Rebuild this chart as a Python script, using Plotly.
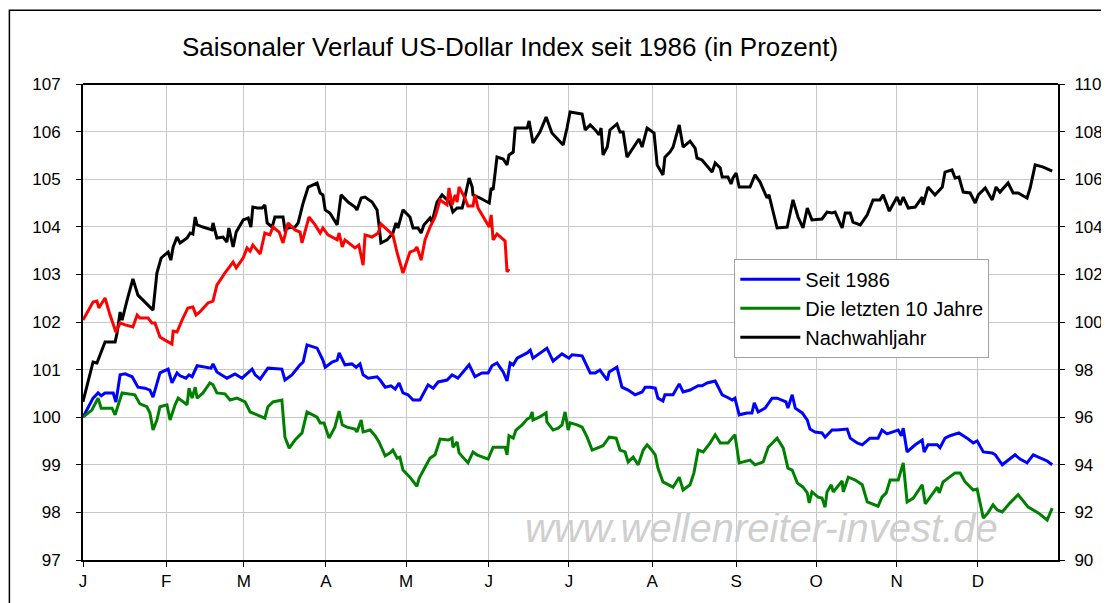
import plotly.graph_objects as go

# x = trading day of the year (0..252), y in percent
months = ["J", "F", "M", "A", "M", "J", "J", "A", "S", "O", "N", "D"]
month_starts = [0, 21.5, 41.6, 62.8, 83.5, 104.9, 125.6, 147.1, 168.8, 189.5, 210.3, 231.3]

# Seit 1986 (left axis)
seit_x = [0, 2.6, 3.9, 4.7, 5.7, 7.8, 8.5, 9.6, 10.9, 12.7, 14.2, 16.0, 17.3, 18.1, 19.9, 22.0, 23.0, 24.3,
          25.1, 26.6, 27.4, 28.2, 29.5, 31.8, 33.1, 33.6, 34.6, 37.2, 39.3, 41.1, 42.7, 43.7, 44.5, 45.8,
          47.8, 51.4, 52.2, 54.0, 56.1, 56.9, 57.9, 60.5, 62.0, 62.6, 64.4, 65.7, 66.2, 67.7, 69.5, 70.6,
          71.6, 72.4, 73.7, 76.0, 76.8, 78.1, 79.6, 80.7, 81.7, 82.7, 84.0, 85.3, 87.1, 88.4, 89.2, 90.5,
          91.8, 94.1, 95.4, 96.9, 98.2, 99.8, 101.3, 103.1, 104.7, 105.7, 107.0, 108.6, 109.6, 110.4, 111.2,
          112.2, 114.8, 115.6, 116.3, 118.1, 119.9, 121.5, 123.8, 125.6, 126.4, 129.0, 129.8, 131.1, 132.4,
          133.6, 135.5, 136.0, 138.0, 139.3, 140.9, 142.7, 144.5, 145.3, 146.6, 147.9, 148.6, 149.9, 150.4,
          152.5, 154.1, 155.1, 156.9, 159.0, 160.0, 161.3, 163.4, 165.2, 166.5, 167.8, 168.5, 169.6, 171.6,
          172.9, 173.5, 174.5, 176.3, 178.1, 179.4, 181.7, 182.2, 183.3, 184.1, 185.9, 187.2, 187.9, 189.2,
          191.0, 191.8, 193.6, 194.9, 197.5, 198.3, 200.1, 201.4, 203.4, 205.5, 206.5, 207.8, 209.1, 210.7,
          211.5, 212.0, 213.0, 215.1, 216.9, 217.4, 218.4, 220.8, 221.5, 222.8, 224.1, 226.4, 228.5, 230.1,
          231.1, 232.7, 235.0, 235.8, 237.6, 239.6, 240.9, 242.2, 244.0, 245.6, 247.4, 249.2, 250.5]
seit_y = [100.0, 100.40, 100.51, 100.45, 100.51, 100.51, 100.32, 100.89, 100.91, 100.85, 100.63, 100.61,
          100.57, 100.42, 100.93, 101.01, 100.72, 100.93, 100.87, 100.82, 100.89, 100.85, 101.08, 101.05,
          101.03, 101.12, 100.95, 100.82, 100.91, 100.82, 100.95, 101.01, 100.89, 100.80, 101.03, 101.01,
          100.78, 100.89, 101.10, 101.16, 101.52, 101.45, 101.20, 101.05, 101.16, 101.20, 101.35, 101.10,
          101.12, 101.05, 101.12, 100.89, 100.82, 100.85, 100.78, 100.63, 100.66, 100.59, 100.72, 100.51,
          100.47, 100.36, 100.36, 100.57, 100.68, 100.61, 100.74, 100.78, 100.89, 100.82, 100.95, 101.10,
          100.85, 100.93, 100.93, 101.08, 101.14, 100.95, 100.76, 101.14, 101.10, 101.24, 101.35, 101.41,
          101.24, 101.35, 101.45, 101.18, 101.33, 101.24, 101.31, 101.29, 101.14, 100.93, 100.93, 100.99,
          100.78, 100.95, 101.05, 100.63, 100.57, 100.47, 100.53, 100.63, 100.63, 100.61, 100.40, 100.34,
          100.47, 100.47, 100.70, 100.53, 100.57, 100.66, 100.66, 100.72, 100.76, 100.47, 100.42, 100.36,
          100.40, 100.05, 100.09, 100.09, 100.30, 100.11, 100.19, 100.40, 100.40, 100.32, 100.19, 100.47,
          100.19, 100.09, 99.94, 99.75, 99.69, 99.67, 99.58, 99.73, 99.73, 99.75, 99.56, 99.46, 99.42,
          99.56, 99.56, 99.73, 99.65, 99.69, 99.73, 99.61, 99.77, 99.27, 99.42, 99.52, 99.27, 99.42, 99.42,
          99.36, 99.56, 99.61, 99.67, 99.56, 99.46, 99.50, 99.27, 99.25, 99.21, 99.0, 99.12, 99.21, 99.12,
          99.04, 99.21, 99.14, 99.08, 99.0]

# Die letzten 10 Jahre (left axis)
zehn_x = [0, 2.3, 3.9, 4.7, 7.5, 8.3, 10.1, 12.1, 13.4, 14.7, 16.5, 17.3, 18.1, 19.1, 19.9, 21.7, 22.5, 23.8,
          24.6, 26.9, 27.4, 28.2, 29.0, 29.5, 31.0, 32.8, 33.6, 34.6, 36.7, 38.0, 39.8, 41.9, 43.2, 45.0,
          47.0, 47.8, 49.1, 51.4, 52.2, 53.3, 54.8, 56.6, 57.9, 60.5, 61.3, 62.3, 63.6, 65.1, 66.2, 67.0,
          68.2, 70.3, 70.8, 71.9, 72.4, 74.2, 75.5, 76.5, 78.1, 79.4, 80.1, 81.2, 81.9, 82.7, 84.5, 86.3,
          86.9, 88.4, 89.7, 91.0, 92.3, 94.4, 95.4, 95.6, 96.7, 97.2, 99.5, 100.8, 101.8, 104.7, 106.0,
          109.1, 109.6, 110.1, 111.2, 111.9, 113.5, 114.8, 115.6, 116.1, 116.3, 117.9, 119.7, 119.9, 121.5,
          122.8, 123.8, 124.6, 125.4, 125.9, 127.7, 129.0, 130.3, 131.6, 133.1, 134.4, 136.0, 137.8, 138.8,
          140.1, 140.9, 142.2, 143.5, 144.8, 145.8, 146.6, 147.9, 148.6, 149.9, 152.5, 154.1, 155.1, 156.9,
          157.9, 159.0, 160.3, 162.1, 163.4, 164.7, 166.7, 168.5, 169.6, 172.4, 173.7, 175.8, 177.1, 179.4,
          181.0, 182.2, 183.3, 184.6, 186.1, 187.2, 187.7, 188.4, 190.0, 191.0, 191.8, 192.3, 193.4, 193.9,
          196.2, 196.5, 197.8, 199.6, 201.4, 202.7, 205.5, 206.5, 207.6, 208.6, 210.7, 212.0, 213.0, 214.6,
          216.9, 217.7, 219.0, 220.8, 221.3, 222.3, 223.6, 225.4, 226.7, 228.0, 230.1, 231.1, 232.7, 233.9,
          235.2, 236.3, 237.6, 239.6, 241.7, 242.7, 244.3, 246.9, 249.2, 250.5]
zehn_y = [100.0, 100.15, 100.40, 100.19, 100.19, 100.05, 100.51, 100.49, 100.47, 100.28, 100.22, 100.09,
          99.73, 99.94, 100.22, 100.26, 99.94, 100.26, 100.40, 100.26, 100.61, 100.40, 100.63, 100.40,
          100.51, 100.72, 100.68, 100.51, 100.49, 100.36, 100.40, 100.32, 100.11, 100.05, 99.98, 100.22,
          100.32, 100.36, 99.58, 99.35, 99.52, 99.67, 100.11, 100.0, 99.88, 99.88, 99.56, 99.79, 100.13,
          99.84, 99.79, 99.75, 99.69, 99.94, 99.69, 99.73, 99.61, 99.48, 99.19, 99.25, 99.31, 99.14, 99.16,
          98.89, 98.74, 98.55, 98.72, 98.95, 99.14, 99.21, 99.54, 99.52, 99.56, 99.37, 99.48, 99.25, 99.04,
          99.27, 99.21, 99.12, 99.37, 99.37, 99.21, 99.61, 99.56, 99.73, 99.84, 99.96, 100.0, 100.11, 99.94,
          100.0, 100.09, 99.90, 99.73, 99.77, 99.84, 100.11, 99.73, 99.88, 99.84, 99.79, 99.58, 99.31, 99.35,
          99.40, 99.58, 99.56, 99.31, 99.27, 99.06, 99.16, 99.0, 99.31, 99.42, 99.35, 99.21, 98.93, 98.64,
          98.53, 98.74, 98.47, 98.58, 98.83, 99.31, 99.27, 99.46, 99.63, 99.46, 99.46, 99.63, 99.04, 99.10,
          99.0, 99.06, 99.37, 99.56, 99.35, 98.93, 98.89, 98.62, 98.53, 98.41, 98.20, 98.43, 98.32, 98.30,
          98.11, 98.43, 98.58, 98.43, 98.66, 98.43, 98.74, 98.68, 98.58, 98.22, 98.13, 98.32, 98.41, 98.68,
          98.68, 99.04, 98.22, 98.30, 98.58, 98.18, 98.32, 98.53, 98.41, 98.64, 98.72, 98.83, 98.83, 98.64,
          98.47, 98.49, 97.88, 97.99, 98.16, 98.05, 98.01, 98.20, 98.37, 98.26, 98.11, 97.99, 97.84, 98.09]

# Nachwahljahr (right axis)
wahl_x = [0, 2.6, 3.6, 5.7, 8.3, 8.8, 9.6, 10.1, 11.4, 12.9, 14.2, 15.5, 17.3, 18.1, 19.1, 20.2, 22.0, 22.7,
          23.3, 24.3, 25.1, 26.9, 27.7, 28.4, 29.0, 29.5, 31.0, 33.3, 33.6, 34.6, 36.2, 37.2, 37.7, 38.8,
          39.6, 41.4, 42.7, 43.4, 43.9, 45.0, 46.3, 47.0, 47.6, 48.9, 49.6, 51.7, 52.2, 53.0, 54.8, 55.6,
          56.9, 58.2, 60.5, 61.3, 62.0, 62.6, 63.8, 65.7, 66.7, 68.5, 70.3, 70.8, 71.9, 72.9, 74.7, 76.0,
          76.5, 77.0, 78.6, 80.1, 80.9, 81.4, 82.7, 84.5, 85.3, 86.6, 87.4, 88.1, 89.7, 90.2, 91.5, 92.8,
          94.9, 95.6, 96.7, 98.0, 98.7, 99.8, 100.6, 100.8, 102.6, 105.0, 105.5, 106.0, 107.0, 108.6, 109.6,
          110.1, 111.2, 111.7, 113.5, 114.8, 115.3, 116.3, 118.1, 119.7, 121.2, 122.8, 124.1, 125.1, 125.9,
          129.0, 129.8, 131.1, 132.4, 133.4, 133.9, 134.4, 135.5, 136.2, 138.0, 138.8, 139.6, 140.6, 142.2,
          143.7, 144.5, 145.8, 147.6, 148.4, 149.9, 150.4, 151.7, 152.5, 154.1, 155.1, 156.9, 158.2, 158.7,
          160.0, 162.6, 163.4, 164.7, 165.2, 166.7, 167.5, 168.0, 168.8, 169.6, 172.4, 173.7, 175.0, 176.8,
          177.3, 179.4, 182.0, 183.5, 184.8, 186.1, 187.2, 188.4, 191.0, 192.3, 193.6, 194.4, 196.2, 197.0,
          198.3, 199.0, 200.9, 202.7, 204.2, 206.0, 206.8, 208.4, 210.4, 211.2, 212.0, 213.3, 215.1, 216.9,
          217.1, 218.4, 220.2, 222.1, 222.8, 224.6, 225.4, 226.4, 227.5, 229.3, 230.6, 231.4, 233.2, 235.0,
          236.0, 237.0, 239.1, 240.4, 241.7, 244.0, 244.8, 246.1, 248.2, 250.5]
wahl_y = [96.65, 98.32, 98.28, 99.16, 99.16, 99.54, 100.42, 100.08, 100.92, 101.81, 101.13, 100.92, 100.63,
          100.50, 102.06, 102.69, 102.94, 102.60, 103.15, 103.57, 103.32, 103.53, 103.74, 103.70, 104.41,
          104.08, 103.99, 103.87, 104.16, 103.53, 103.57, 103.36, 103.95, 103.15, 103.78, 104.29, 104.37,
          103.99, 104.83, 104.79, 104.79, 104.92, 104.16, 103.99, 104.41, 104.41, 103.87, 103.95, 103.99,
          104.16, 105.0, 105.67, 105.84, 105.42, 105.34, 104.71, 104.58, 104.08, 105.34, 105.04, 104.83,
          104.71, 105.21, 105.25, 105.04, 104.71, 104.08, 103.32, 103.45, 103.74, 104.16, 103.95, 104.71,
          104.41, 103.95, 103.95, 103.74, 104.08, 104.37, 104.20, 105.04, 105.34, 105.0, 104.62, 104.79,
          104.79, 105.25, 106.05, 105.67, 105.34, 105.21, 105.0, 105.63, 105.55, 106.93, 106.85, 106.60,
          107.02, 107.14, 108.15, 108.15, 108.15, 108.45, 107.52, 107.98, 108.61, 107.94, 107.65, 107.44,
          108.15, 108.82, 108.74, 108.07, 108.28, 108.07, 107.86, 108.15, 107.02, 107.35, 108.07, 108.32,
          107.98, 107.98, 106.93, 107.31, 107.69, 107.35, 108.15, 107.94, 106.60, 106.18, 106.93, 107.14,
          107.35, 108.28, 107.35, 107.60, 107.31, 106.89, 106.81, 106.30, 106.68, 106.47, 106.09, 106.09,
          105.80, 106.05, 106.26, 105.67, 105.67, 106.18, 105.88, 105.21, 105.34, 103.95, 103.99, 105.13,
          104.41, 103.95, 104.79, 104.29, 104.33, 104.62, 104.58, 104.62, 103.95, 104.58, 104.58, 104.20,
          104.08, 104.50, 105.13, 105.13, 105.34, 104.66, 105.25, 104.92, 105.25, 104.79, 104.83, 105.25,
          104.92, 105.67, 105.34, 105.67, 106.30, 106.39, 106.05, 106.09, 105.46, 105.42, 105.0, 105.34,
          105.63, 105.13, 105.67, 105.46, 105.84, 105.42, 105.42, 105.21, 105.63, 106.60, 106.51, 106.34]

# aktuelles Jahr (right axis, no legend entry)
akt_x = [0, 2.6, 3.6, 4.1, 5.7, 7.0, 8.5, 9.6, 10.9, 12.9, 14.0, 14.7, 16.8, 17.8, 18.6, 19.9, 21.2, 23.0,
         23.3, 24.3, 25.6, 27.1, 28.4, 29.2, 30.2, 32.3, 33.6, 34.6, 36.7, 38.8, 39.6, 41.4, 42.4, 43.2,
         43.9, 45.8, 47.0, 48.3, 49.1, 50.7, 51.7, 53.0, 54.8, 56.1, 56.6, 58.4, 60.0, 61.3, 62.0, 63.3,
         65.7, 66.2, 67.0, 67.7, 70.3, 71.3, 72.4, 72.9, 74.7, 76.3, 77.0, 78.8, 80.1, 81.2, 82.7, 84.5,
         85.8, 86.3, 87.4, 88.4, 89.7, 91.0, 92.3, 94.1, 94.6, 95.4, 96.2, 96.7, 97.2, 98.7, 99.5, 100.8,
         101.3, 102.1, 103.9, 105.0, 105.5, 106.0, 107.0, 109.1, 109.6, 110.1]
akt_y = [100.08, 100.84, 100.88, 100.59, 101.01, 100.29, 99.58, 99.96, 99.88, 99.79, 100.29, 100.17, 100.17,
         99.96, 99.96, 99.37, 99.24, 99.07, 99.62, 99.58, 100.08, 100.59, 100.63, 100.29, 100.42, 100.80,
         100.88, 101.55, 102.06, 102.52, 102.27, 102.69, 103.11, 102.98, 103.23, 102.86, 103.74, 103.66,
         103.99, 103.78, 103.32, 104.16, 103.87, 103.78, 103.32, 104.41, 104.08, 103.74, 103.95, 103.66,
         103.45, 103.74, 103.15, 103.45, 103.11, 103.23, 102.39, 103.66, 103.57, 103.74, 104.12, 103.87,
         103.66, 102.90, 102.06, 102.94, 103.02, 103.15, 102.60, 103.45, 103.99, 104.41, 105.13, 104.92,
         105.63, 104.92, 105.34, 105.04, 105.67, 105.21, 104.87, 104.87, 105.34, 104.79, 104.29, 103.99,
         104.50, 103.45, 103.70, 103.40, 102.10, 102.23]

fig = go.Figure()

fig.add_trace(go.Scatter(x=seit_x, y=seit_y, mode="lines", name="Seit 1986",
                         line=dict(color="#0000ff", width=3)))
fig.add_trace(go.Scatter(x=zehn_x, y=zehn_y, mode="lines", name="Die letzten 10 Jahre",
                         line=dict(color="#008000", width=3)))
fig.add_trace(go.Scatter(x=wahl_x, y=wahl_y, mode="lines", name="Nachwahljahr", yaxis="y2",
                         line=dict(color="#000000", width=3)))
fig.add_trace(go.Scatter(x=akt_x, y=akt_y, mode="lines", name="2017", yaxis="y2",
                         showlegend=False, line=dict(color="#ff0000", width=3)))

# page body has an 8px margin, so the figure is 8px smaller than the window
fig.update_layout(
    width=1101, height=595,
    paper_bgcolor="white",
    plot_bgcolor="white",
    font=dict(family="Liberation Sans, Arial, sans-serif", size=17, color="black"),
    margin=dict(l=75, r=51, t=76, b=43, autoexpand=False),
    title=dict(text="Saisonaler Verlauf US-Dollar Index seit 1986 (in Prozent)",
               x=0.456, xanchor="center", y=0.935, yanchor="middle",
               font=dict(size=26)),
    xaxis=dict(range=[0, 252], tickvals=month_starts, ticktext=months, automargin=False,
               showgrid=True, gridcolor="#c8c8c8", gridwidth=1,
               showline=True, linecolor="black", linewidth=2, mirror=False,
               ticks="outside", ticklen=5, tickcolor="black", zeroline=False),
    yaxis=dict(range=[97, 107], dtick=1, showgrid=True, gridcolor="#c8c8c8", gridwidth=1,
               showline=True, linecolor="black", linewidth=2, automargin=False,
               ticks="outside", ticklen=5, tickcolor="black", zeroline=False,
               ticklabelstandoff=12),
    yaxis2=dict(range=[90, 110], dtick=2, overlaying="y", side="right", showgrid=False,
                showline=True, linecolor="black", linewidth=2, automargin=False,
                ticks="outside", ticklen=5, tickcolor="black", zeroline=False,
                ticklabelstandoff=6),
    legend=dict(x=0.668, y=0.633, xanchor="left", yanchor="top",
                bgcolor="white", bordercolor="#a0a0a0", borderwidth=1,
                font=dict(size=20), tracegroupgap=0, itemwidth=60),
    showlegend=True,
)

# top border of the plot area
fig.add_shape(type="line", xref="paper", yref="paper", x0=0, x1=1, y0=1, y1=1,
              line=dict(color="black", width=2))
# outer chart border
fig.add_shape(type="rect", xref="paper", yref="paper", x0=-0.0755, x1=1.048, y0=-0.2, y1=1.155,
              line=dict(color="black", width=1.5))

fig.add_annotation(text="<i>www.wellenreiter-invest.de</i>", xref="paper", yref="paper",
                   x=0.9405, y=0.068, xanchor="right", yanchor="middle", showarrow=False,
                   font=dict(size=40, color="#cfcfcf", family="Liberation Sans, Arial, sans-serif"))

fig.write_html("out.html")
